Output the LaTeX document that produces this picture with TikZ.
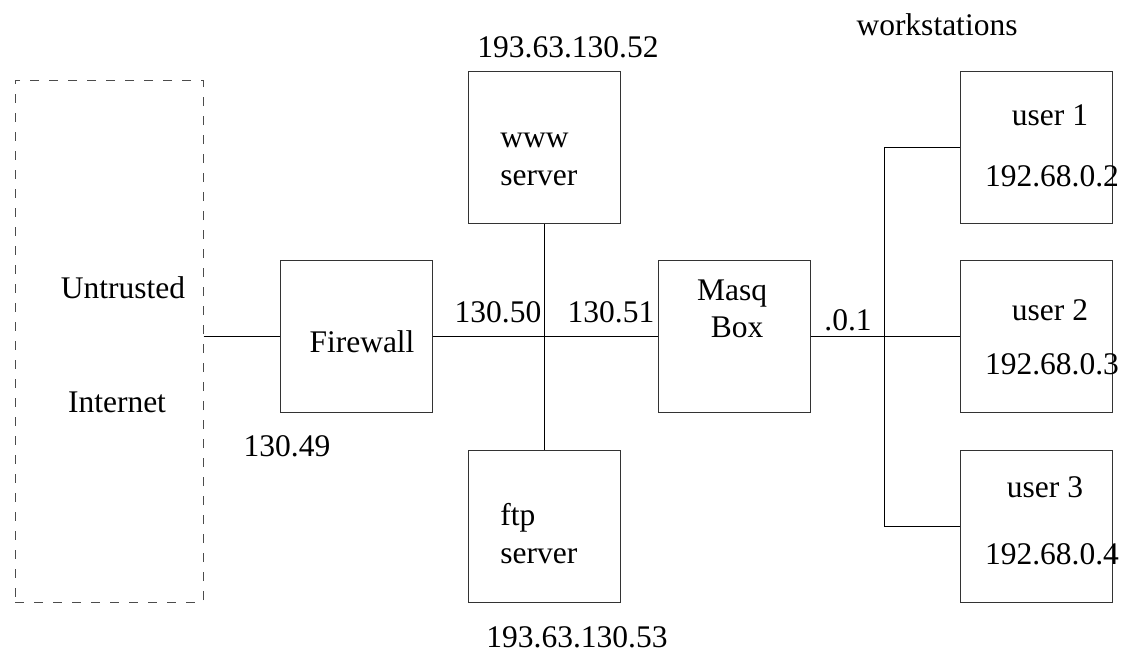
\documentclass[tikz,border=0pt]{standalone}
\usepackage{fontspec}
\setmainfont{Liberation Serif}
\usetikzlibrary{calc}
\tikzset{box/.style={draw=black!80, line width=0.5pt, minimum width=76pt,
		minimum height=76pt, inner sep=0pt},
	lbl/.style={anchor=base, inner sep=0pt},
	wire/.style={line width=0.5pt},
}

\begin{document}
\begin{tikzpicture}[x=0.5pt, y=-0.5pt, font=\fontsize{15.75pt}{19pt}\selectfont]
		\useasboundingbox (0,0) rectangle (1124,653);
		% the untrusted side
		\node[draw=black!70, line width=0.5pt, dash pattern=on 4.5pt off 5pt,
		minimum width=94pt, minimum height=261pt, inner sep=0pt] at (109,341) (net) {};
		\node[lbl] at (123,298) (untr) {Untrusted};
		\node[lbl] at (117,412) (inet) {Internet};
		% firewall and servers
		\node[box] at (356,336) (fw) {};
		\node[lbl] at (362,352) (fwt) {Firewall};
		\node[lbl] at (287,456) (a49) {130.49};
		\node[box] at (544,147.5) (www) {};
		\node[lbl, anchor=base west] at (500,147) (wwwa) {www};
		\node[lbl, anchor=base west] at (500,185) (wwwb) {server};
		\node[lbl] at (568,57) (a52) {193.63.130.52};
		\node[box] at (544,526) (ftp) {};
		\node[lbl, anchor=base west] at (500,525) (ftpa) {ftp};
		\node[lbl, anchor=base west] at (500,563) (ftpb) {server};
		\node[lbl] at (577,647) (a53) {193.63.130.53};
		\node[lbl] at (498,322) (a50) {130.50};
		\node[lbl] at (611,322) (a51) {130.51};
		% masquerading box
		\node[box] at (734,336) (masq) {};
		\node[lbl] at (732,300) (masqa) {Masq};
		\node[lbl] at (737,337) (masqb) {Box};
		\node[lbl] at (848,330) (a01) {.0.1};
		% workstations
		\node[lbl] at (937,35) (ws) {workstations};
		\node[box] at (1036,147.5) (u1) {};
		\node[lbl] at (1050,125) (u1a) {user 1};
		\node[lbl] at (1052,186) (u1b) {192.68.0.2};
		\node[box] at (1036,336) (u2) {};
		\node[lbl] at (1050,320) (u2a) {user 2};
		\node[lbl] at (1052,374) (u2b) {192.68.0.3};
		\node[box] at (1036,526) (u3) {};
		\node[lbl] at (1045,497) (u3a) {user 3};
		\node[lbl] at (1052,564) (u3b) {192.68.0.4};
		\coordinate (bus) at (884,336);
		% connections
		\draw[wire] (fw.west -| net.east) -- (fw.west);
		\draw[wire] (fw.east) -- (masq.west);
		\draw[wire] (www.south) -- (ftp.north);
		\draw[wire] (masq.east) -- (u2.west);
		\draw[wire] (u1.west) -| (bus) |- (u3.west);
	\end{tikzpicture}
\end{document}
